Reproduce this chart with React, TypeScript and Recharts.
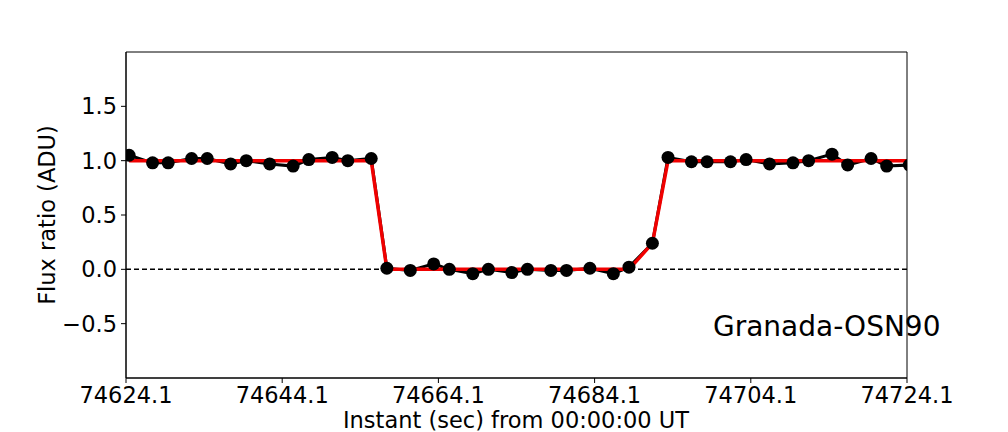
import React from "react";
import {
  ComposedChart,
  Line,
  XAxis,
  YAxis,
  ReferenceLine,
  ReferenceArea,
  Customized,
} from "recharts";

// observation instants (sec from 00:00:00 UT)
const instants = [
  74624.5, 74627.5, 74629.5, 74632.5, 74634.5, 74637.5, 74639.5, 74642.5,
  74645.5, 74647.5, 74650.5, 74652.5, 74655.5, 74657.5, 74660.5, 74663.5,
  74665.5, 74668.5, 74670.5, 74673.5, 74675.5, 74678.5, 74680.5, 74683.5,
  74686.5, 74688.5, 74691.5, 74693.5, 74696.5, 74698.5, 74701.5, 74703.5,
  74706.5, 74709.5, 74711.5, 74714.5, 74716.5, 74719.5, 74721.5, 74724.4,
];

// measured flux ratio (black)
const fluxRatio = [
  1.05, 0.98, 0.98, 1.02, 1.02, 0.97, 1.0, 0.97,
  0.95, 1.01, 1.03, 1.0, 1.02, 0.01, -0.01, 0.05,
  0.0, -0.04, 0.0, -0.03, 0.0, -0.01, -0.01, 0.01,
  -0.04, 0.02, 0.24, 1.03, 0.99, 0.99, 0.99, 1.01,
  0.97, 0.98, 1.0, 1.06, 0.96, 1.02, 0.95, 0.96,
];

// fitted model (red)
const model = [
  1, 1, 1, 1, 1, 1, 1, 1,
  1, 1, 1, 1, 1, 0, 0, 0,
  0, 0, 0, 0, 0, 0, 0, 0,
  0, 0, 0.24, 1, 1, 1, 1, 1,
  1, 1, 1, 1, 1, 1, 1, 1,
];

const xTicks = [74624.1, 74644.1, 74664.1, 74684.1, 74704.1, 74724.1];
const yTicks = [-0.5, 0, 0.5, 1.0, 1.5];

const data = instants.map((t, i) => ({ t, flux: fluxRatio[i], model: model[i] }));

const FONT = "'DejaVu Sans', sans-serif";

const fmtY = (v: number) => (v < 0 ? "\u2212" + Math.abs(v).toFixed(1) : v.toFixed(1));

export default function App() {
  return (
    <div style={{ position: "absolute", left: 0, top: 0, width: 1008, height: 432, background: "#fff" }}>
      <ComposedChart
        width={1008}
        height={432}
        data={data}
        margin={{ top: 52, right: 101, bottom: 0, left: 0 }}
        style={{ fontFamily: FONT }}
      >
        <XAxis
          dataKey="t"
          type="number"
          domain={[74624.1, 74724.1]}
          ticks={xTicks}
          tickFormatter={(v: number) => v.toFixed(1)}
          allowDataOverflow
          tickSize={5}
          tickMargin={4}
          height={54}
          stroke="#000"
          tick={{ fill: "#000", fontSize: 22.5 }}
        />
        <YAxis
          type="number"
          domain={[-1, 2]}
          ticks={yTicks}
          tickFormatter={fmtY}
          allowDataOverflow
          tickSize={5}
          tickMargin={4}
          width={126}
          stroke="#000"
          tick={{ fill: "#000", fontSize: 22.5 }}
        />
        <ReferenceArea
          x1={74624.1}
          x2={74724.1}
          y1={-1}
          y2={2}
          fill="none"
          stroke="#000"
          strokeWidth={1}
        />
        <ReferenceLine y={0} stroke="#000" strokeDasharray="5 3" strokeWidth={1.5} />
        <Line
          dataKey="flux"
          stroke="#000"
          strokeWidth={3}
          dot={{ r: 6.5, fill: "#000", stroke: "#000", strokeWidth: 0 }}
          isAnimationActive={false}
        />
        <Line
          dataKey="model"
          stroke="#f00000"
          strokeWidth={3.5}
          dot={false}
          isAnimationActive={false}
        />
        <Customized
          component={() => (
            <g style={{ fontFamily: FONT }}>
              <text x={713} y={336} fontSize={28} fill="#000">
                Granada-OSN90
              </text>
              <text x={516} y={428} fontSize={22.5} fill="#000" textAnchor="middle">
                Instant (sec) from 00:00:00 UT
              </text>
              <text
                x={0}
                y={0}
                fontSize={22.5}
                fill="#000"
                textAnchor="middle"
                transform="translate(55 215) rotate(-90)"
              >
                Flux ratio (ADU)
              </text>
            </g>
          )}
        />
      </ComposedChart>
    </div>
  );
}
